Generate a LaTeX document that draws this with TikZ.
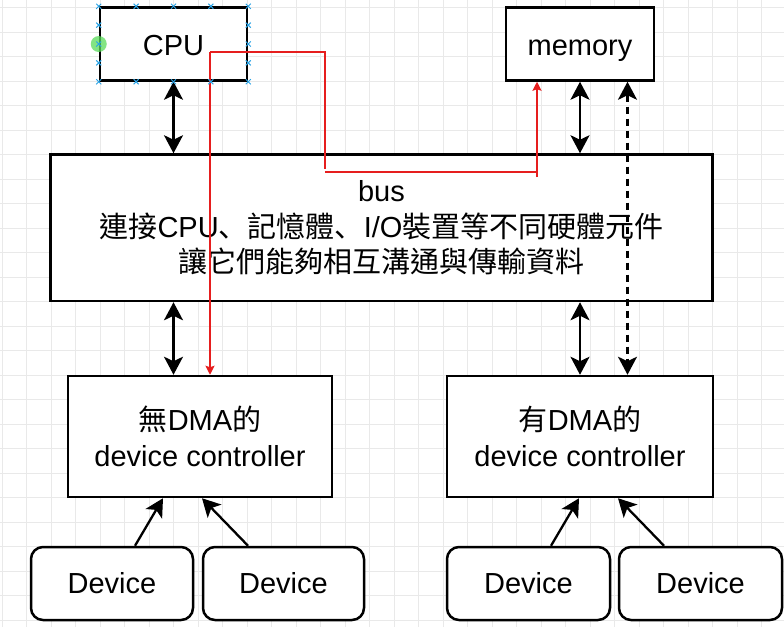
\documentclass[tikz,border=0pt]{standalone}
\usepackage{fontspec}
\setmainfont{Liberation Sans}
\newfontfamily\cjk{Noto Sans CJK TC}
\newfontfamily\cjksc{Noto Sans CJK SC}
\usetikzlibrary{arrows.meta,calc}
\definecolor{redline}{RGB}{230,30,30}
\definecolor{gridc}{RGB}{233,233,233}
\definecolor{handle}{RGB}{41,163,230}
\definecolor{greenh}{RGB}{90,220,90}
\begin{document}
\begin{tikzpicture}[x=1pt,y=-1pt,
 box/.style={draw=black,line width=2.5pt,fill=white,rectangle,inner sep=0pt,font=\fontsize{29}{35.5}\selectfont,align=center},
 onebox/.style={box,text height=26pt,text depth=4pt},
 devbox/.style={box,rounded corners=12pt},
 dbl/.style={line width=2.3pt,arrows={Stealth[length=18pt,width=19pt,inset=4.5pt]-Stealth[length=18pt,width=19pt,inset=4.5pt]}},
 sgl/.style={line width=2.3pt,arrows={-Stealth[length=18pt,width=19pt,inset=4.5pt]}},
 dashl/.style={dbl,dash pattern=on 7pt off 5pt},
 redl/.style={draw=redline,line width=1.6pt},
 reda/.style={redl,arrows={-Stealth[length=9pt,width=9pt,inset=1.5pt]}},
 gridl/.style={draw=gridc,line width=1pt},
 hmark/.style={draw=handle,line width=1pt}]
\useasboundingbox[fill=white] (0,0) rectangle (784,627);
% grid
\foreach \i in {0,...,32} {\draw[gridl] (2+24.5*\i,0) -- (2+24.5*\i,627);}
\foreach \j in {0,...,25} {\draw[gridl] (0,7.5+24.5*\j) -- (784,7.5+24.5*\j);}
% boxes
\node[onebox,minimum width=147pt,minimum height=73pt] (cpu) at (173.5,44) {CPU};
\node[onebox,minimum width=148pt,minimum height=73pt] (mem) at (580,44) {memory};
\node[box,minimum width=662pt,minimum height=146.5pt] (bus) at (381.5,227.75)
  {bus\\{\cjk 連接}CPU{\cjksc 、}{\cjk 記憶體}{\cjksc 、}I/O{\cjk 裝置等不同硬體元件}\\{\cjk 讓它們能夠相互溝通與傳輸資料}};
\node[box,minimum width=264pt,minimum height=121pt] (ctrlL) at (200,436.5) {{\cjk 無}DMA{\cjk 的}\\device controller};
\node[box,minimum width=266pt,minimum height=121pt] (ctrlR) at (580,436.5) {{\cjk 有}DMA{\cjk 的}\\device controller};
\node[devbox,minimum width=162pt,minimum height=73pt] (dev1) at (112,583.5) {Device};
\node[devbox,minimum width=161pt,minimum height=73pt] (dev2) at (283.5,583.5) {Device};
\node[devbox,minimum width=163pt,minimum height=73pt] (dev3) at (528.5,583.5) {Device};
\node[devbox,minimum width=163pt,minimum height=73pt] (dev4) at (700.5,583.5) {Device};
% helper x positions
\coordinate (dx) at (627.5,0);
\coordinate (d1s) at (135,0); \coordinate (d1t) at (163,0);
\coordinate (d2s) at (248,0); \coordinate (d2t) at (202,0);
\coordinate (d3s) at (551,0); \coordinate (d3t) at (579,0);
\coordinate (d4s) at (664,0); \coordinate (d4t) at (618,0);
% connectors
\draw[dbl] (cpu.south) -- (bus.north -| cpu.south);
\draw[dbl] (mem.south) -- (bus.north -| mem.south);
\draw[dbl] (bus.south -| cpu.south) -- (ctrlL.north -| cpu.south);
\draw[dbl] (bus.south -| mem.south) -- (ctrlR.north -| mem.south);
\draw[dashl] (mem.south -| dx) -- (ctrlR.north -| dx);
\draw[sgl] (dev1.north -| d1s) -- (ctrlL.south -| d1t);
\draw[sgl] (dev2.north -| d2s) -- (ctrlL.south -| d2t);
\draw[sgl] (dev3.north -| d3s) -- (ctrlR.south -| d3t);
\draw[sgl] (dev4.north -| d4s) -- (ctrlR.south -| d4t);
% red lines
\coordinate (rA) at (210,52);
\coordinate (rB) at (325,52);
\coordinate (rC) at (325,168.5);
\coordinate (rD) at (325,172);
\coordinate (rE) at (537,172);
\coordinate (rF) at (537,177);
\draw[redl] (rA) -- (rB) -- (rC);
\draw[redl] (rD) -- (rE);
\draw[reda] (rF) -- (rF |- mem.south);
\draw[reda] (rA) -- (rA |- ctrlL.north);
% selection handles on CPU
\fill[greenh,fill opacity=0.75] (cpu.west) circle (8pt);
\foreach \t in {0,0.25,0.5,0.75,1} {
  \draw[hmark] ($(cpu.north west)!\t!(cpu.north east)$) +(-2.5,-2.5) -- +(2.5,2.5) +(-2.5,2.5) -- +(2.5,-2.5);
  \draw[hmark] ($(cpu.south west)!\t!(cpu.south east)$) +(-2.5,-2.5) -- +(2.5,2.5) +(-2.5,2.5) -- +(2.5,-2.5);
}
\foreach \t in {0.25,0.5,0.75} {
  \draw[hmark] ($(cpu.north west)!\t!(cpu.south west)$) +(-2.5,-2.5) -- +(2.5,2.5) +(-2.5,2.5) -- +(2.5,-2.5);
  \draw[hmark] ($(cpu.north east)!\t!(cpu.south east)$) +(-2.5,-2.5) -- +(2.5,2.5) +(-2.5,2.5) -- +(2.5,-2.5);
}
\end{tikzpicture}
\end{document}
